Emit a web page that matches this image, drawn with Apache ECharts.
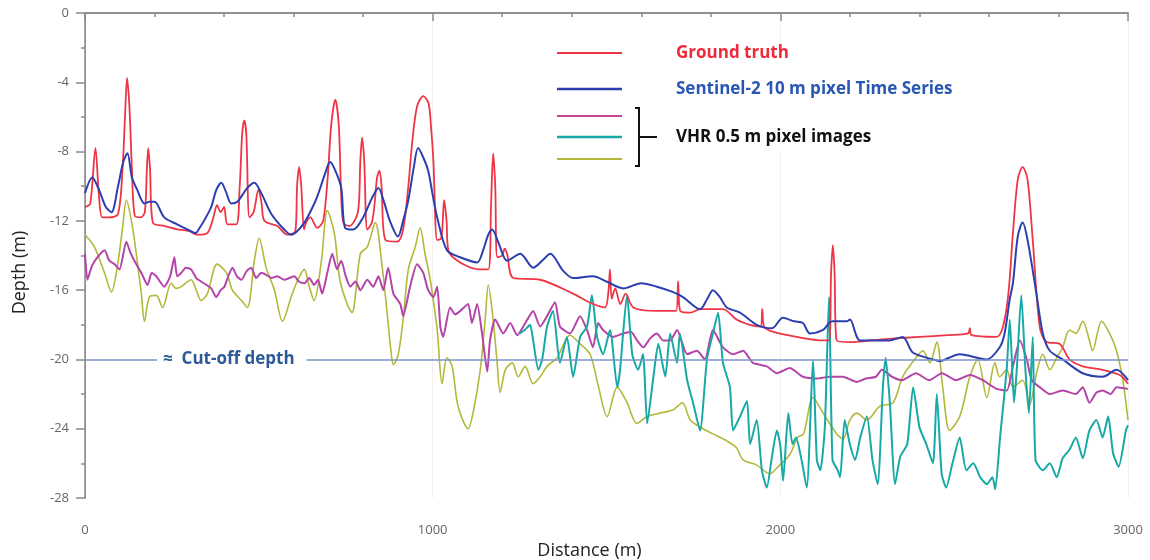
<!DOCTYPE html>
<html>
<head>
<meta charset="utf-8">
<script src="https://cdn.jsdelivr.net/npm/echarts@6/dist/echarts.min.js"></script>
<style>
  html, body { margin: 0; padding: 0; background: #fff; }
  #chart { width: 1150px; height: 560px; }
</style>
</head>
<body>
<div id="chart"></div>
<script>
// depth profile along the transect: [distance (m), depth (m)]
var groundTruth = [
  [0,-11.2],[15,-11.0],[30,-7.8],[40,-10.5],[50,-11.8],[70,-11.8],[95,-11.6],[108,-9],[115,-6],[121,-3.75],[128,-5.5],[135,-9],
  [143,-11.7],[160,-11.8],[172,-11.5],[178,-9],[182,-7.8],[187,-9],[195,-12.1],[230,-12.3],[270,-12.5],[300,-12.6],[323,-12.8],
  [352,-12.7],[368,-11.9],[380,-11.1],[390,-11.5],[400,-11.2],[410,-12.2],[435,-12.2],[445,-10],[452,-7],[458,-6.2],[464,-7],
  [473,-11.8],[485,-11.5],[499,-10.2],[508,-11],[516,-12],[553,-12.3],[582,-12.8],[605,-12.6],[610,-10],[616,-8.9],[622,-10],
  [630,-12.5],[636,-12.1],[648,-11.8],[668,-12.4],[685,-12],[698,-9.5],[708,-6.5],[720,-5.0],[730,-6.5],[736,-10],[743,-12.1],
  [760,-12.3],[785,-11.5],[792,-8.5],[797,-7.2],[803,-8.5],[812,-12.5],[825,-12.1],[833,-11],[840,-9.5],[847,-9.1],[853,-10],
  [864,-13.1],[898,-13.2],[915,-12.5],[930,-10],[941,-7.5],[955,-5.4],[973,-4.8],[988,-5.2],[995,-6.5],[1002,-8.5],[1013,-13.1],
  [1025,-13],[1033,-10.8],[1040,-12],[1045,-13.7],[1079,-14.4],[1137,-14.8],[1160,-14.8],[1168,-11],[1174,-8.1],[1180,-10],
  [1186,-14.1],[1200,-14.0],[1207,-13.6],[1214,-13.9],[1232,-15.3],[1309,-15.4],[1404,-16.2],[1450,-16.7],[1495,-17.0],
  [1505,-16.2],[1510,-14.8],[1515,-16.5],[1525,-15.9],[1540,-16.8],[1555,-16.2],[1577,-17.0],[1645,-17.2],[1700,-17.2],
  [1706,-15.5],[1712,-17.2],[1741,-17.3],[1769,-17.1],[1835,-17.1],[1874,-17.7],[1912,-18.0],[1943,-18.1],[1948,-17.1],
  [1953,-18.1],[1978,-18.4],[2047,-18.7],[2123,-18.9],[2140,-18.9],[2146,-15],[2151,-13.4],[2156,-15],[2162,-18.9],[2200,-19.0],
  [2260,-18.9],[2320,-18.8],[2400,-18.7],[2480,-18.6],[2540,-18.5],[2545,-18.2],[2550,-18.6],[2622,-18.7],[2651,-17.0],
  [2669,-12.7],[2683,-9.6],[2697,-8.9],[2711,-9.6],[2726,-13.1],[2746,-18.1],[2766,-19.0],[2803,-19.1],[2832,-20.0],
  [2870,-20.4],[2927,-20.6],[2976,-20.9],[3000,-21.4]
];

var sentinel2 = [
  [0,-10.4],[21,-9.5],[40,-10.2],[60,-11.2],[76,-11.5],[95,-10],[110,-8.6],[122,-8.1],[135,-9.5],[150,-10.2],[171,-11.0],
  [185,-10.9],[200,-10.9],[228,-11.8],[265,-12.2],[305,-12.6],[318,-12.7],[330,-12.4],[345,-11.9],[363,-11.2],[378,-10.2],
  [392,-9.8],[405,-10.3],[421,-11.0],[438,-10.9],[467,-10.1],[487,-9.8],[507,-10.4],[536,-11.6],[573,-12.5],[593,-12.8],
  [610,-12.6],[631,-12.1],[650,-11.4],[668,-10.6],[690,-9.3],[705,-8.6],[720,-9.1],[737,-10.1],[748,-12.4],[772,-12.5],
  [800,-11.8],[825,-10.7],[844,-10.1],[860,-10.9],[877,-12.0],[900,-12.9],[915,-12],[930,-10.8],[945,-9],[958,-7.8],
  [972,-8.3],[987,-9.1],[1000,-10.5],[1013,-11.8],[1041,-13.7],[1079,-14.1],[1128,-14.4],[1145,-13.7],[1160,-12.8],
  [1171,-12.5],[1190,-13.3],[1214,-14.3],[1252,-13.9],[1289,-14.7],[1320,-14.2],[1338,-13.9],[1376,-14.9],[1404,-15.3],
  [1461,-15.2],[1500,-15.5],[1548,-15.9],[1600,-15.6],[1645,-15.8],[1690,-16.1],[1720,-16.4],[1769,-17.1],[1790,-16.5],
  [1806,-16.0],[1826,-16.4],[1846,-17.0],[1884,-17.3],[1932,-18.0],[1976,-18.2],[2007,-17.6],[2040,-17.8],[2065,-17.9],
  [2085,-18.5],[2123,-18.3],[2140,-17.9],[2151,-17.8],[2191,-17.8],[2200,-17.7],[2230,-18.9],[2313,-18.9],[2352,-18.7],
  [2381,-19.6],[2439,-20.0],[2460,-20.1],[2485,-19.9],[2516,-19.7],[2594,-20.0],[2631,-19.3],[2645,-18.5],[2660,-16.5],
  [2669,-15.6],[2683,-12.9],[2697,-12.1],[2711,-13.1],[2735,-16.0],[2755,-18.5],[2775,-19.5],[2812,-20.0],[2870,-20.8],
  [2927,-21.0],[2967,-20.6],[3000,-21.2]
];

var vhrA = [
  [0,-13.9],[7,-15.4],[20,-14.6],[36,-14.1],[56,-13.7],[70,-14.3],[85,-14.5],[99,-14.8],[119,-13.2],[130,-13.8],[142,-14.3],
  [162,-15.0],[180,-15.7],[192,-15.0],[205,-15.2],[228,-15.8],[245,-15.2],[257,-14.1],[265,-15.2],[277,-15.0],[290,-14.7],
  [305,-14.8],[320,-15.3],[334,-15.5],[363,-15.9],[377,-16.4],[390,-16.0],[401,-15.8],[412,-15.2],[424,-14.7],[437,-15.2],
  [450,-15.4],[465,-14.9],[478,-14.7],[492,-15.3],[507,-15.0],[520,-15.1],[536,-15.3],[553,-15.2],[573,-15.4],[588,-15.3],
  [602,-15.2],[615,-15.5],[631,-15.6],[645,-15.3],[659,-15.7],[670,-15.4],[682,-16.2],[697,-15.0],[711,-13.9],[725,-14.8],
  [737,-14.3],[750,-15.2],[763,-15.8],[778,-15.5],[792,-16.0],[812,-15.4],[829,-15.8],[844,-15.2],[858,-16.0],[872,-14.7],
  [887,-16.2],[907,-16.8],[915,-17.5],[935,-15.8],[955,-14.5],[973,-15.0],[987,-16.0],[1002,-16.4],[1013,-15.8],[1022,-18.1],
  [1030,-18.7],[1050,-17.0],[1065,-17.4],[1079,-17.2],[1102,-16.8],[1113,-17.9],[1128,-16.8],[1142,-18.5],[1157,-20.7],
  [1165,-18.9],[1180,-17.7],[1203,-18.5],[1223,-17.9],[1243,-18.6],[1272,-17.7],[1289,-17.2],[1309,-18.1],[1329,-17.5],
  [1352,-16.7],[1366,-18.1],[1395,-18.5],[1424,-17.5],[1444,-18.3],[1461,-19.3],[1476,-17.9],[1490,-18.3],[1519,-18.7],
  [1548,-18.5],[1570,-18.4],[1588,-18.9],[1606,-19.3],[1625,-18.8],[1645,-18.5],[1663,-18.9],[1683,-18.9],[1703,-18.3],
  [1732,-19.7],[1760,-19.5],[1783,-20.0],[1806,-18.3],[1835,-19.3],[1864,-19.7],[1893,-19.5],[1921,-20.2],[1961,-20.4],
  [1990,-20.8],[2027,-20.5],[2065,-21.0],[2105,-21.1],[2143,-21.0],[2180,-21.0],[2220,-21.3],[2246,-21.1],[2275,-21.0],
  [2292,-20.6],[2321,-21.0],[2350,-21.2],[2390,-20.8],[2428,-21.2],[2465,-20.8],[2505,-21.2],[2545,-20.9],[2582,-21.2],
  [2622,-21.7],[2651,-21.8],[2669,-20.4],[2689,-18.9],[2709,-20.0],[2723,-21.2],[2746,-21.6],[2775,-22.0],[2812,-21.8],
  [2850,-22.0],[2870,-21.6],[2889,-22.5],[2910,-21.9],[2927,-21.8],[2950,-22.0],[2967,-21.6],[3000,-21.7]
];

var vhrB = [
  [1250,-18.5],[1265,-18.3],[1280,-18.0],[1289,-18.9],[1304,-20.6],[1315,-20.0],[1329,-18.1],[1346,-17.2],[1366,-20.2],
  [1386,-18.7],[1404,-21.0],[1424,-18.7],[1444,-18.1],[1458,-16.3],[1473,-18.7],[1490,-19.7],[1510,-18.3],[1531,-21.6],
  [1539,-20.6],[1559,-16.3],[1574,-19.7],[1591,-20.6],[1605,-19.7],[1617,-23.7],[1635,-21.0],[1649,-19.1],[1669,-21.0],
  [1683,-18.5],[1703,-20.2],[1711,-18.5],[1732,-21.2],[1749,-22.5],[1769,-24.1],[1789,-20.0],[1806,-18.5],[1821,-17.3],
  [1835,-20.2],[1855,-21.6],[1864,-24.1],[1884,-23.3],[1904,-22.4],[1913,-24.9],[1932,-23.5],[1947,-26.4],[1961,-27.4],
  [1976,-25.6],[1990,-24.1],[2000,-25.0],[2008,-27.0],[2023,-23.1],[2035,-24.9],[2045,-24.5],[2060,-25.7],[2076,-27.4],
  [2094,-20.0],[2105,-25.8],[2115,-26.4],[2128,-23.9],[2140,-16.4],[2150,-25.8],[2165,-26.4],[2172,-26.8],[2185,-23.5],
  [2200,-24.9],[2215,-25.8],[2230,-24.5],[2249,-23.3],[2265,-25.8],[2280,-27.2],[2295,-21.6],[2303,-19.9],[2315,-22.5],
  [2330,-27.2],[2345,-25.6],[2365,-24.9],[2382,-21.6],[2400,-23.9],[2420,-24.9],[2439,-26.0],[2450,-22.0],[2464,-26.6],
  [2477,-27.4],[2495,-26.0],[2516,-24.5],[2535,-26.4],[2555,-26.0],[2575,-26.8],[2594,-27.2],[2610,-26.8],[2618,-27.5],
  [2632,-24.5],[2651,-20.6],[2660,-17.7],[2672,-22.5],[2680,-20.6],[2693,-16.3],[2705,-20.6],[2715,-23.1],[2726,-18.7],
  [2734,-25.8],[2755,-26.4],[2775,-26.0],[2795,-26.8],[2812,-25.7],[2832,-25.2],[2850,-24.5],[2870,-25.7],[2889,-24.1],
  [2909,-23.5],[2927,-24.5],[2943,-23.3],[2957,-25.4],[2973,-26.2],[2994,-24.1],[3000,-23.8]
];

var vhrC = [
  [0,-12.8],[27,-13.5],[56,-15.0],[76,-16.1],[94,-14.5],[108,-12.4],[119,-10.8],[137,-12.4],[150,-14.3],[162,-16.2],
  [171,-17.8],[185,-16.4],[205,-16.3],[223,-17.0],[248,-15.6],[262,-15.9],[277,-15.8],[305,-15.4],[320,-16.0],[334,-16.6],
  [352,-16.2],[380,-14.5],[407,-15.0],[424,-16.0],[450,-16.6],[467,-17.0],[487,-14.3],[501,-13.0],[521,-14.7],[545,-16.0],
  [568,-17.8],[593,-16.4],[610,-15.5],[631,-14.8],[645,-15.8],[659,-16.6],[680,-14.3],[697,-11.4],[717,-12.7],[733,-15.4],
  [754,-16.8],[768,-17.3],[792,-13.9],[812,-13.5],[835,-12.1],[855,-14.7],[869,-17.3],[880,-19.5],[887,-20.3],[901,-19.7],
  [915,-17.7],[930,-14.8],[950,-13.5],[964,-12.4],[978,-13.9],[993,-15.4],[1013,-18.3],[1027,-21.4],[1041,-19.9],[1056,-20.4],
  [1073,-22.7],[1102,-24.0],[1116,-23.1],[1137,-20.6],[1151,-17.7],[1160,-15.7],[1174,-17.7],[1185,-20.1],[1194,-21.9],
  [1209,-20.6],[1229,-20.2],[1246,-21.0],[1266,-20.4],[1289,-21.4],[1309,-21.0],[1329,-20.4],[1358,-19.9],[1395,-18.6],
  [1424,-19.1],[1453,-19.7],[1476,-21.5],[1502,-23.3],[1531,-21.6],[1559,-22.5],[1588,-23.7],[1617,-23.3],[1654,-23.1],
  [1692,-22.9],[1718,-22.5],[1741,-23.5],[1769,-23.9],[1806,-24.3],[1846,-24.7],[1874,-25.1],[1893,-25.8],[1932,-26.1],
  [1970,-26.6],[1993,-26.2],[2027,-25.5],[2050,-24.5],[2067,-24.3],[2094,-22.2],[2123,-23.1],[2162,-24.3],[2180,-24.6],
  [2200,-23.5],[2220,-23.1],[2249,-23.5],[2286,-22.7],[2324,-22.5],[2352,-21.0],[2390,-19.9],[2410,-19.5],[2430,-20.2],
  [2450,-19.0],[2467,-21.6],[2487,-24.1],[2516,-23.3],[2545,-21.0],[2568,-20.0],[2594,-22.2],[2617,-20.2],[2631,-21.0],
  [2651,-20.6],[2669,-21.6],[2697,-21.2],[2717,-22.6],[2737,-20.8],[2755,-19.7],[2775,-20.6],[2795,-19.9],[2812,-19.3],
  [2832,-18.3],[2850,-18.5],[2870,-17.8],[2889,-18.9],[2898,-19.5],[2924,-17.8],[2947,-18.5],[2967,-19.5],[2985,-21.2],
  [3000,-23.5]
];

var cutOffDepth = -20;

var chart = echarts.init(document.getElementById('chart'), null, { renderer: 'canvas' });

var option = {
  backgroundColor: '#ffffff',
  animation: false,
  textStyle: { fontFamily: 'Open Sans' },
  grid: { left: 85, right: 22, top: 13, bottom: 62, containLabel: false, outerBoundsMode: 'none' },
  xAxis: [{
    type: 'value',
    min: 0,
    max: 3000,
    interval: 1000,
    offset: 9,
    name: 'Distance (m)',
    nameLocation: 'middle',
    nameGap: 29,
    nameTextStyle: { color: '#222', fontSize: 18, padding: [0, 34, 0, 0] },
    axisLine: { lineStyle: { color: '#8a8a8a', width: 1.5 } },
    axisTick: { length: 8, lineStyle: { color: '#8a8a8a', width: 1.5 } },
    minorTick: { show: true, splitNumber: 5, length: 4, lineStyle: { color: '#8a8a8a', width: 1.5 } },
    axisLabel: {
      color: '#666', fontSize: 13, margin: 17,
      formatter: function (v) { return String(v); }
    },
    splitLine: { show: true, lineStyle: { color: '#f0f0f0', width: 1 } }
  }, {
    type: 'value',
    position: 'top',
    min: 0,
    max: 3000,
    axisLine: { show: true, lineStyle: { color: '#8a8a8a', width: 1.5 } },
    axisTick: { show: false },
    axisLabel: { show: false },
    splitLine: { show: false }
  }],
  yAxis: [{
    type: 'value',
    min: -28,
    max: 0,
    interval: 4,
    name: 'Depth (m)',
    nameLocation: 'middle',
    nameGap: 56,
    nameTextStyle: { color: '#222', fontSize: 18, padding: [0, 34, 0, 0] },
    axisLine: { show: true, lineStyle: { color: '#8a8a8a', width: 1, type: [3, 2] } },
    axisTick: { show: true, length: 9, lineStyle: { color: '#8a8a8a', width: 1.5 } },
    minorTick: { show: true, splitNumber: 2, length: 4, lineStyle: { color: '#8a8a8a', width: 1.5 } },
    axisLabel: { color: '#666', fontSize: 13, margin: 16 },
    splitLine: { show: false }
  }, {
    type: 'value',
    position: 'right',
    min: -28,
    max: 0,
    axisLine: { show: true, lineStyle: { color: '#8a8a8a', width: 1.5 } },
    axisTick: { show: false },
    axisLabel: { show: false },
    splitLine: { show: false }
  }],
  series: [{
    name: 'VHR 0.5 m pixel images (3)',
    type: 'line',
    data: vhrC,
    showSymbol: false,
    smooth: 0.3,
    lineStyle: { color: '#b3b83a', width: 1.6 }
  }, {
    name: 'VHR 0.5 m pixel images (1)',
    type: 'line',
    data: vhrA,
    showSymbol: false,
    smooth: 0.2,
    lineStyle: { color: '#b444a8', width: 2 }
  }, {
    name: 'VHR 0.5 m pixel images (2)',
    type: 'line',
    data: vhrB,
    showSymbol: false,
    smooth: 0.2,
    lineStyle: { color: '#17a9a6', width: 2 }
  }, {
    name: 'Ground truth',
    type: 'line',
    data: groundTruth,
    showSymbol: false,
    smooth: 0.3,
    lineStyle: { color: '#ee3545', width: 1.8 },
    markLine: {
      silent: true,
      symbol: 'none',
      lineStyle: { color: '#7d95c8', width: 1.5, type: 'solid' },
      label: {
        show: true,
        position: 'insideStart',
        distance: [72, 0],
        formatter: '\u2248  Cut-off depth',
        color: '#2d5a96',
        fontSize: 17,
        fontWeight: 'bold',
        fontFamily: 'Open Sans',
        backgroundColor: '#ffffff',
        padding: [3, 12, 3, 6]
      },
      data: [{ yAxis: cutOffDepth }]
    }
  }, {
    name: 'Sentinel-2 10 m pixel Time Series',
    type: 'line',
    data: sentinel2,
    showSymbol: false,
    smooth: 0.3,
    lineStyle: { color: '#2c3fb0', width: 2 }
  }],
  graphic: [
    { type: 'line', shape: { x1: 557, y1: 53, x2: 622, y2: 53 }, style: { stroke: '#ee3545', lineWidth: 2.2 } },
    { type: 'line', shape: { x1: 557, y1: 89, x2: 622, y2: 89 }, style: { stroke: '#2c3fb0', lineWidth: 2.5 } },
    { type: 'line', shape: { x1: 557, y1: 116, x2: 622, y2: 116 }, style: { stroke: '#c8439a', lineWidth: 2.2 } },
    { type: 'line', shape: { x1: 557, y1: 137, x2: 622, y2: 137 }, style: { stroke: '#17a9a6', lineWidth: 2.5 } },
    { type: 'line', shape: { x1: 557, y1: 159, x2: 622, y2: 159 }, style: { stroke: '#b3b83a', lineWidth: 2.2 } },
    { type: 'polyline', shape: { points: [[635, 108], [639, 108], [639, 166], [635, 166]] }, style: { stroke: '#111', lineWidth: 2, fill: null } },
    { type: 'line', shape: { x1: 639, y1: 137, x2: 657, y2: 137 }, style: { stroke: '#111', lineWidth: 2 } },
    { type: 'rect', shape: { x: 670, y: 40, width: 300, height: 110 }, style: { fill: '#ffffff' }, z: 90 },
    { type: 'text', x: 676, y: 53, z: 100, style: { text: 'Ground truth', fill: '#ee2a3a', font: 'bold 17px "Open Sans"', verticalAlign: 'middle' } },
    { type: 'text', x: 676, y: 89, z: 100, style: { text: 'Sentinel-2 10 m pixel Time Series', fill: '#2a56b4', font: 'bold 17px "Open Sans"', verticalAlign: 'middle' } },
    { type: 'text', x: 676, y: 137, z: 100, style: { text: 'VHR 0.5 m pixel images', fill: '#111', font: 'bold 17px "Open Sans"', verticalAlign: 'middle' } }
  ]
};

chart.setOption(option);
</script>
</body>
</html>
